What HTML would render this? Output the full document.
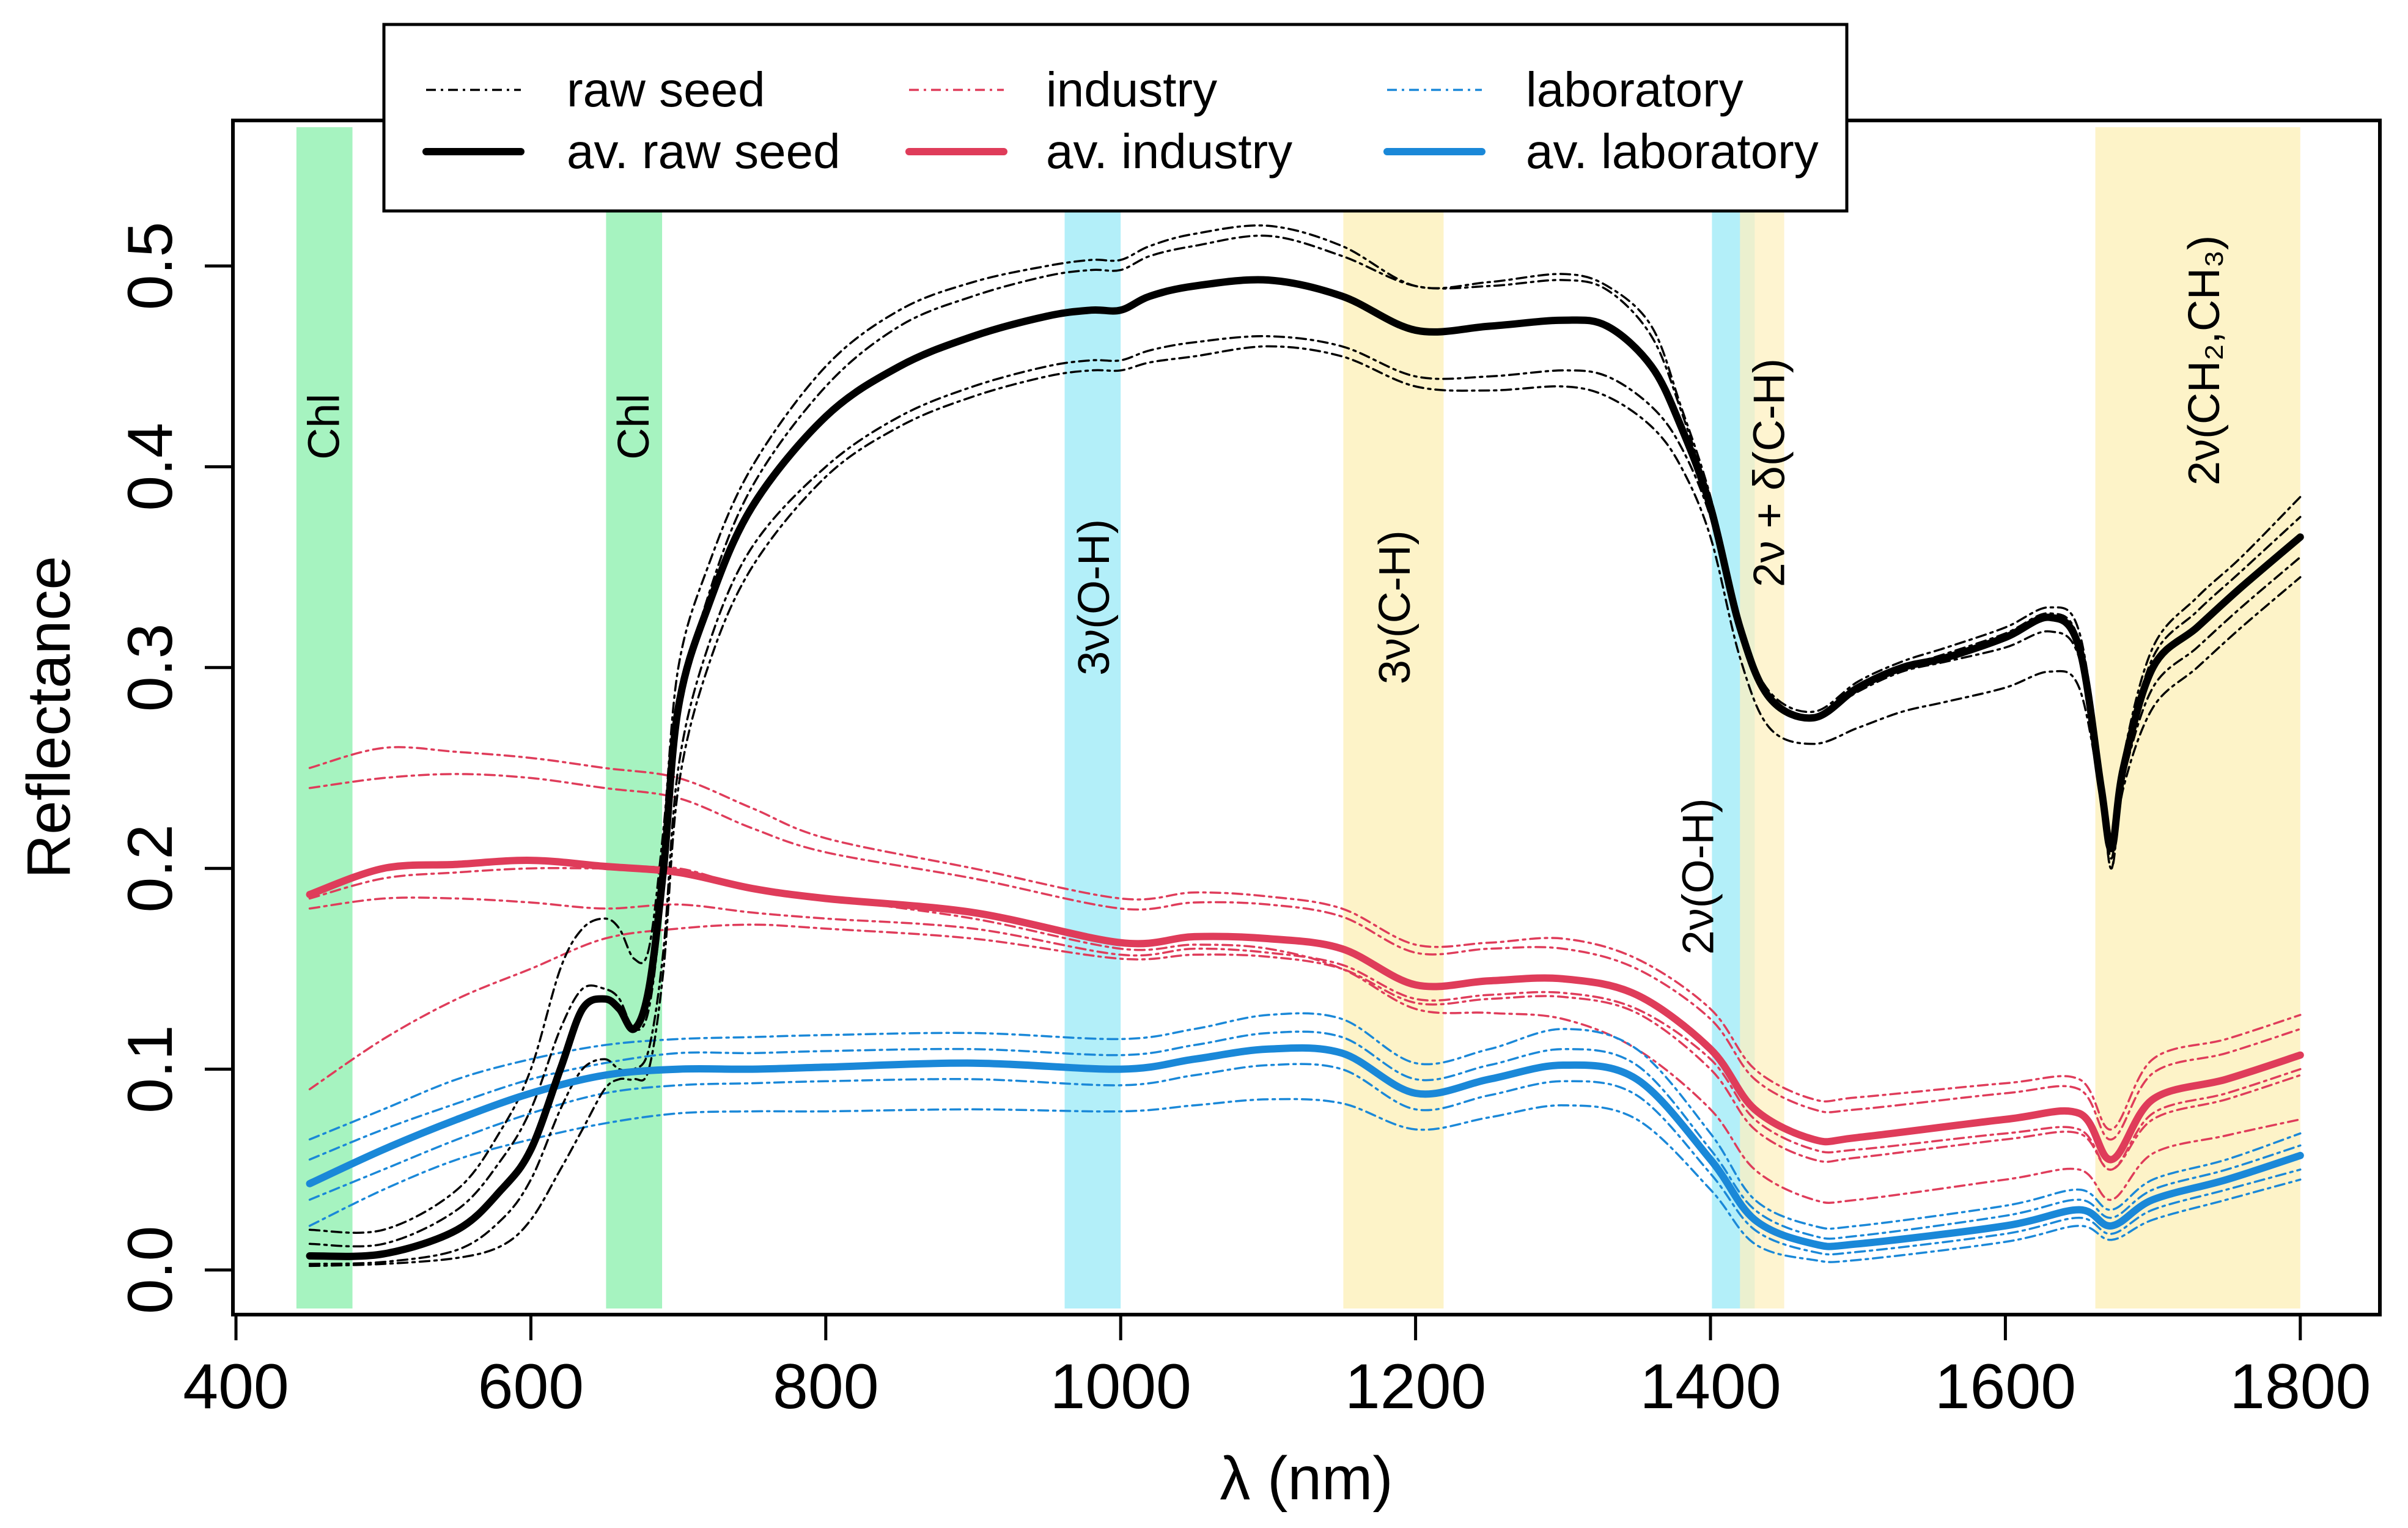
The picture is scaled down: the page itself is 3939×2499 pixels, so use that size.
<!DOCTYPE html>
<html><head><meta charset="utf-8"><style>
html,body{margin:0;padding:0;background:#fff}
svg{display:block;font-family:"Liberation Sans",Arial,sans-serif}
</style></head><body>
<svg id="chart" width="3939" height="2499" viewBox="0 0 3939 2499" xmlns="http://www.w3.org/2000/svg">
<g id="bands"></g>
<g id="annot"></g>
<g id="series"></g>
<g id="axes"></g>
<g id="legend"></g>
</svg>
<script>
// ---- data ----
const xTicks = [400,600,800,1000,1200,1400,1600,1800];
const yTicks = [0.0,0.1,0.2,0.3,0.4,0.5];
const yTickLabels = ["0.0","0.1","0.2","0.3","0.4","0.5"];
const bandStart = [441,651,962,1151,1401,1420,1661];
const bandEnd   = [479,689,1000,1219,1430,1450,1800];
const bandColor = ["#a6f3c0","#a6f3c0","#b3eff9","#fdf3c8","#b3eff9","#fdf0c0","#fdf3c8"];
const annLabels = ["Chl","Chl","3ν(O-H)","3ν(C-H)","2ν(O-H)","2ν + δ(C-H)","2ν(CH₂,CH₃)"];
const annX = [460,670,982,1186,1392,1440,1735];
const annY = [0.42,0.42,0.335,0.33,0.196,0.397,0.453];

const lamSeed = [450,500,550,580,600,620,635,650,660,670,680,690,700,720,750,800,850,900,950,980,1000,1020,1050,1100,1150,1200,1250,1300,1330,1360,1380,1400,1420,1440,1470,1500,1530,1560,1600,1630,1650,1665,1672,1680,1700,1730,1760,1800];
const seedAvg = [0.007,0.008,0.02,0.04,0.06,0.1,0.13,0.135,0.13,0.12,0.14,0.2,0.28,0.33,0.38,0.425,0.45,0.465,0.475,0.478,0.478,0.485,0.49,0.493,0.485,0.468,0.47,0.473,0.47,0.45,0.42,0.38,0.32,0.285,0.275,0.29,0.3,0.305,0.315,0.325,0.31,0.24,0.21,0.25,0.3,0.32,0.34,0.365];
const seed1 = [0.02,0.02,0.04,0.07,0.1,0.15,0.17,0.175,0.17,0.155,0.16,0.22,0.3,0.35,0.4,0.45,0.478,0.492,0.5,0.503,0.503,0.51,0.516,0.52,0.51,0.49,0.492,0.496,0.49,0.47,0.43,0.385,0.322,0.288,0.278,0.293,0.303,0.31,0.32,0.33,0.318,0.245,0.205,0.255,0.31,0.335,0.355,0.385];
const seed2 = [0.013,0.013,0.03,0.055,0.08,0.12,0.14,0.14,0.135,0.12,0.13,0.19,0.275,0.335,0.39,0.44,0.47,0.485,0.495,0.498,0.498,0.505,0.51,0.515,0.505,0.49,0.49,0.493,0.488,0.465,0.428,0.382,0.32,0.285,0.275,0.29,0.3,0.307,0.317,0.327,0.313,0.24,0.2,0.25,0.305,0.328,0.348,0.375];
const seed3 = [0.003,0.004,0.01,0.025,0.045,0.08,0.1,0.105,0.1,0.1,0.11,0.16,0.25,0.31,0.36,0.4,0.425,0.44,0.45,0.453,0.453,0.458,0.462,0.465,0.46,0.445,0.445,0.448,0.445,0.43,0.41,0.375,0.32,0.285,0.275,0.288,0.298,0.303,0.31,0.318,0.305,0.24,0.21,0.245,0.29,0.31,0.33,0.355];
const seed4 = [0.002,0.003,0.006,0.012,0.025,0.05,0.07,0.09,0.095,0.095,0.1,0.15,0.24,0.3,0.35,0.395,0.42,0.435,0.445,0.448,0.448,0.452,0.455,0.46,0.455,0.44,0.438,0.44,0.435,0.42,0.4,0.365,0.305,0.27,0.262,0.27,0.278,0.283,0.29,0.298,0.29,0.235,0.2,0.24,0.28,0.3,0.32,0.345];

const lamProc = [450,500,550,600,650,700,750,800,900,1000,1050,1100,1150,1200,1250,1300,1350,1400,1430,1470,1500,1600,1650,1672,1700,1750,1800];
const indAvg = [0.187,0.2,0.202,0.204,0.201,0.198,0.19,0.185,0.178,0.163,0.166,0.165,0.16,0.142,0.144,0.145,0.137,0.11,0.08,0.065,0.066,0.075,0.078,0.055,0.085,0.095,0.107];
const ind1 = [0.25,0.26,0.258,0.255,0.25,0.245,0.23,0.215,0.2,0.185,0.188,0.186,0.18,0.162,0.163,0.165,0.155,0.13,0.1,0.085,0.086,0.093,0.095,0.07,0.105,0.115,0.127];
const ind2 = [0.24,0.245,0.247,0.245,0.24,0.235,0.22,0.208,0.195,0.18,0.183,0.182,0.176,0.158,0.16,0.16,0.15,0.125,0.095,0.08,0.08,0.088,0.09,0.065,0.098,0.108,0.12];
const ind3 = [0.18,0.185,0.185,0.183,0.18,0.182,0.178,0.175,0.17,0.157,0.16,0.158,0.152,0.135,0.137,0.138,0.13,0.105,0.075,0.06,0.06,0.068,0.07,0.05,0.078,0.088,0.1];
const ind4 = [0.09,0.115,0.135,0.15,0.165,0.17,0.172,0.17,0.165,0.155,0.157,0.156,0.15,0.133,0.135,0.136,0.128,0.1,0.07,0.055,0.056,0.065,0.068,0.05,0.075,0.085,0.097];
const ind5 = [0.185,0.195,0.198,0.2,0.2,0.2,0.19,0.185,0.175,0.16,0.162,0.16,0.15,0.13,0.128,0.125,0.11,0.08,0.05,0.035,0.035,0.045,0.05,0.035,0.058,0.067,0.075];
const labAvg = [0.043,0.06,0.075,0.088,0.097,0.1,0.1,0.101,0.103,0.1,0.105,0.11,0.108,0.088,0.095,0.102,0.095,0.055,0.025,0.013,0.013,0.022,0.03,0.022,0.035,0.045,0.057];
const lab1 = [0.065,0.08,0.095,0.105,0.112,0.115,0.116,0.117,0.118,0.115,0.12,0.127,0.125,0.103,0.11,0.12,0.11,0.068,0.035,0.022,0.022,0.032,0.04,0.03,0.045,0.055,0.068];
const lab2 = [0.055,0.07,0.083,0.095,0.103,0.108,0.108,0.109,0.11,0.107,0.112,0.118,0.116,0.095,0.102,0.11,0.102,0.06,0.03,0.017,0.017,0.027,0.035,0.026,0.04,0.05,0.062];
const lab3 = [0.035,0.05,0.065,0.078,0.088,0.092,0.093,0.094,0.095,0.092,0.097,0.102,0.1,0.08,0.087,0.094,0.087,0.048,0.02,0.009,0.009,0.018,0.026,0.018,0.03,0.04,0.05];
const lab4 = [0.022,0.04,0.055,0.065,0.073,0.078,0.079,0.079,0.08,0.079,0.082,0.085,0.083,0.07,0.076,0.082,0.075,0.04,0.013,0.005,0.005,0.014,0.022,0.015,0.025,0.035,0.045];

// ---- scales ----
const NS = "http://www.w3.org/2000/svg";
const X0 = 386, XK = 2.412;
const Y0 = 2077, YK = 3284;
const xs = v => X0 + (v - 400) * XK;
const ys = v => Y0 - v * YK;
const PL = 381, PR = 3893, PT = 197, PB = 2150;
const RED = "#DF3C5A", BLUE = "#1A88D8", BLK = "#000";

function mk(tag, attrs, parent) {
  const e = document.createElementNS(NS, tag);
  for (const k in attrs) e.setAttribute(k, attrs[k]);
  parent.appendChild(e);
  return e;
}
const gB = document.getElementById('bands');
const gA = document.getElementById('annot');
const gS = document.getElementById('series');
const gX = document.getElementById('axes');
const gL = document.getElementById('legend');

for (let i = 0; i < bandStart.length; i++) {
  const r = mk('rect', {x: xs(bandStart[i]), y: 208, width: xs(bandEnd[i]) - xs(bandStart[i]), height: 2140 - 208, fill: bandColor[i], 'fill-opacity': (i === 5 ? 0.75 : 1)}, gB);
  
  
}
for (let i = 0; i < annLabels.length; i++) {
  const cx = xs(annX[i]), cy = ys(annY[i]);
  const t = mk('text', {x: 0, y: 0, 'font-size': 72, 'text-anchor': 'middle', 'dominant-baseline': 'central', transform: `translate(${cx},${cy}) rotate(-90)`}, gA);
  t.textContent = annLabels[i];
  
  
}
function smoothPath(px, py) {
  let d = `M${px[0].toFixed(1)},${py[0].toFixed(1)}`;
  for (let i = 0; i < px.length - 1; i++) {
    const i0 = Math.max(0, i - 1), i3 = Math.min(px.length - 1, i + 2);
    const c1x = px[i] + (px[i + 1] - px[i0]) / 6, c1y = py[i] + (py[i + 1] - py[i0]) / 6;
    const c2x = px[i + 1] - (px[i3] - px[i]) / 6, c2y = py[i + 1] - (py[i3] - py[i]) / 6;
    d += `C${c1x.toFixed(1)},${c1y.toFixed(1)} ${c2x.toFixed(1)},${c2y.toFixed(1)} ${px[i + 1].toFixed(1)},${py[i + 1].toFixed(1)}`;
  }
  return d;
}
function line(lam, vals, color, w, dashed, name) {
  const p = mk('path', {d: smoothPath(lam.map(xs), vals.map(ys)), fill: 'none', stroke: color, 'stroke-width': w, 'stroke-linejoin': 'round', 'stroke-linecap': 'round'}, gS);
  if (dashed) p.setAttribute('stroke-dasharray', '16 8 4 8');
  
  
}
[ind1, ind2, ind3, ind4, ind5].forEach((s, i) => line(lamProc, s, RED, 3.5, true, 'industry-sample-' + (i + 1)));
[lab1, lab2, lab3, lab4].forEach((s, i) => line(lamProc, s, BLUE, 3.5, true, 'laboratory-sample-' + (i + 1)));
[seed1, seed2, seed3, seed4].forEach((s, i) => line(lamSeed, s, BLK, 3.5, true, 'raw-seed-sample-' + (i + 1)));
line(lamProc, indAvg, RED, 12, false, 'av-industry-line');
line(lamProc, labAvg, BLUE, 12, false, 'av-laboratory-line');
line(lamSeed, seedAvg, BLK, 12, false, 'av-raw-seed-line');

const box = mk('rect', {x: PL, y: PT, width: PR - PL, height: PB - PT, fill: 'none', stroke: '#000', 'stroke-width': 6}, gX);


xTicks.forEach(v => {
  const x = xs(v);
  const tk = mk('line', {x1: x, y1: PB, x2: x, y2: PB + 42, stroke: '#000', 'stroke-width': 5}, gX);
  
  
  const t = mk('text', {x: x, y: 2303, 'font-size': 104, 'text-anchor': 'middle'}, gX);
  t.textContent = v;
  
  
});
yTicks.forEach((v, i) => {
  const y = ys(v);
  const tk = mk('line', {x1: PL, y1: y, x2: PL - 46, y2: y, stroke: '#000', 'stroke-width': 5}, gX);
  
  
  const t = mk('text', {x: 0, y: 0, 'font-size': 104, 'text-anchor': 'middle', 'dominant-baseline': 'central', transform: `translate(246,${y}) rotate(-90)`}, gX);
  t.textContent = yTickLabels[i];
  
  
});
const yt = mk('text', {x: 0, y: 0, 'font-size': 100, 'text-anchor': 'middle', 'dominant-baseline': 'central', transform: 'translate(80,1173) rotate(-90)'}, gX);
yt.textContent = 'Reflectance';


const xt = mk('text', {x: 2137, y: 2452, 'font-size': 100, 'text-anchor': 'middle'}, gX);
xt.textContent = 'λ (nm)';



const lb = mk('rect', {x: 628, y: 40, width: 2393, height: 305, fill: '#fff', stroke: '#000', 'stroke-width': 5}, gL);


const legLabels = ["raw seed","av. raw seed","industry","av. industry","laboratory","av. laboratory"];
const legColors = [BLK, BLK, RED, RED, BLUE, BLUE];
const colX = [697, 1487, 2269];
const textX = [927, 1711, 2496];
const rowY = [147, 248];
legLabels.forEach((lab, i) => {
  const c = Math.floor(i / 2), r = i % 2;
  const ln = mk('line', {x1: colX[c], y1: rowY[r], x2: colX[c] + 155, y2: rowY[r], stroke: legColors[i], 'stroke-width': r ? 12 : 3.5, 'stroke-linecap': r ? 'round' : 'butt'}, gL);
  if (!r) ln.setAttribute('stroke-dasharray', '16 8 4 8');
  
  
  const t = mk('text', {x: textX[c], y: rowY[r] + 27, 'font-size': 80}, gL);
  t.textContent = lab;
  
  
});
</script>
</body></html>
